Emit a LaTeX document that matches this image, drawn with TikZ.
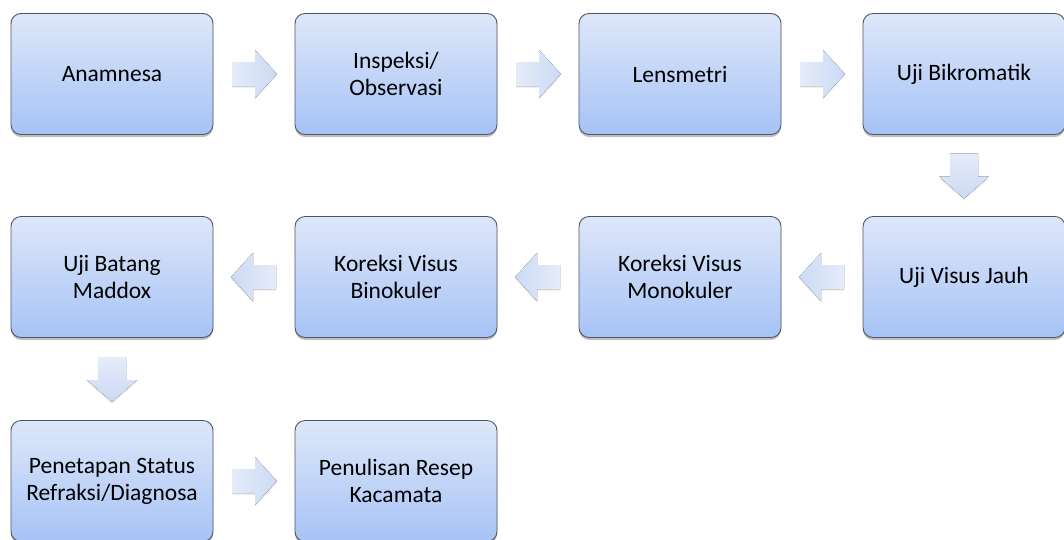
\documentclass[tikz,border=0pt]{standalone}
\usepackage{fontspec}
\setmainfont{Carlito}
\usetikzlibrary{shadows,calc}
\definecolor{boxtop}{HTML}{DEE7F9}
\definecolor{boxbot}{HTML}{A6C3F6}
\definecolor{boxline}{HTML}{4F5562}
\definecolor{arrA}{HTML}{E5ECF9}
\definecolor{arrB}{HTML}{CBDAF4}
\tikzset{
  stepbox/.style={draw=boxline, line width=0.9pt, rounded corners=10pt,
    top color=boxtop, bottom color=boxbot,
    minimum width=202pt, minimum height=121pt, inner sep=0pt,
    align=center, font=\fontsize{23.5}{27}\selectfont, text=black,
    drop shadow={shadow xshift=0pt, shadow yshift=-2.5pt, opacity=0.35, fill=black!70}},
  blockarr/.style={draw=none, drop shadow={shadow xshift=0pt, shadow yshift=-2pt, opacity=0.12}},
}
\newcommand{\rarr}[1]{% right-pointing block arrow centred on #1
  \fill[blockarr, left color=arrA, right color=arrB]
    ($(#1)+(-22,-12)$) -- ($(#1)+(1,-12)$) -- ($(#1)+(1,-24)$) -- ($(#1)+(23,0)$)
    -- ($(#1)+(1,24)$) -- ($(#1)+(1,12)$) -- ($(#1)+(-22,12)$) -- cycle;}
\newcommand{\larr}[1]{%
  \fill[blockarr, right color=arrA, left color=arrB]
    ($(#1)+(22,-12)$) -- ($(#1)+(-1,-12)$) -- ($(#1)+(-1,-24)$) -- ($(#1)+(-23,0)$)
    -- ($(#1)+(-1,24)$) -- ($(#1)+(-1,12)$) -- ($(#1)+(22,12)$) -- cycle;}
\newcommand{\darr}[1]{%
  \fill[blockarr, top color=arrA, bottom color=arrB]
    ($(#1)+(-14,-22)$) -- ($(#1)+(-14,1)$) -- ($(#1)+(-25,1)$) -- ($(#1)+(0,23)$)
    -- ($(#1)+(25,1)$) -- ($(#1)+(14,1)$) -- ($(#1)+(14,-22)$) -- cycle;}
\begin{document}
\begin{tikzpicture}[x=1pt,y=-1pt]
\useasboundingbox (0,0) rectangle (1064,539);
\fill[white] (0,0) rectangle (1064,539);
% row 1
\node[stepbox] (a1) at (112,74) {Anamnesa};
\node[stepbox] (a2) at (396,74) {Inspeksi/\\Observasi};
\node[stepbox] (a3) at (680,74) {Lensmetri};
\node[stepbox] (a4) at (964,74) {Uji Bikromatik};
% row 2
\node[stepbox] (b4) at (964,277) {Uji Visus Jauh};
\node[stepbox] (b3) at (680,277) {Koreksi Visus\\Monokuler};
\node[stepbox] (b2) at (396,277) {Koreksi Visus\\Binokuler};
\node[stepbox] (b1) at (112,277) {Uji Batang\\Maddox};
% row 3
\node[stepbox] (c1) at (112,481) {Penetapan Status\\Refraksi/Diagnosa};
\node[stepbox] (c2) at (396,481) {Penulisan Resep\\Kacamata};
% arrows
\coordinate (m12) at ($(a1.east)!0.5!(a2.west)$);
\coordinate (m23) at ($(a2.east)!0.5!(a3.west)$);
\coordinate (m34) at ($(a3.east)!0.5!(a4.west)$);
\coordinate (m4d) at ($(a4.south)!0.5!(b4.north)$);
\coordinate (n43) at ($(b4.west)!0.5!(b3.east)$);
\coordinate (n32) at ($(b3.west)!0.5!(b2.east)$);
\coordinate (n21) at ($(b2.west)!0.5!(b1.east)$);
\coordinate (n1d) at ($(b1.south)!0.5!(c1.north)$);
\coordinate (p12) at ($(c1.east)!0.5!(c2.west)$);
\rarr{m12}
\rarr{m23}
\rarr{m34}
\darr{m4d}
\larr{n43}
\larr{n32}
\larr{n21}
\darr{n1d}
\rarr{p12}
\end{tikzpicture}
\end{document}
